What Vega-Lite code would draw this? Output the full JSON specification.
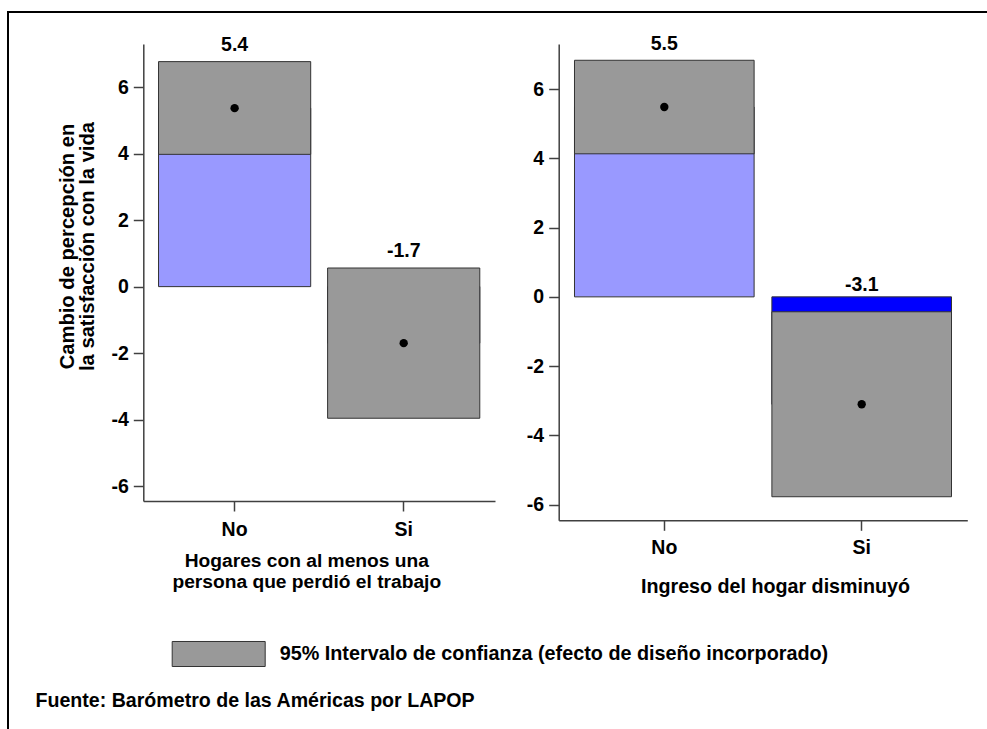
{
  "$schema": "https://vega.github.io/schema/vega-lite/v6.json",
  "autosize": {"type": "none"},
  "padding": {"left": 8, "top": 12, "right": -6, "bottom": -5},
  "width": 985,
  "height": 722,
  "background": "white",
  "config": {
    "view": {"stroke": "black", "strokeWidth": 2},
    "font": "Liberation Sans",
    "locale": {"number": {"decimal": ".", "thousands": ",", "grouping": [3], "currency": ["$", ""], "minus": "-"}},
    "axis": {
      "grid": false,
      "domainColor": "#404040",
      "domainWidth": 1.5,
      "tickColor": "#404040",
      "tickWidth": 1.5,
      "tickSize": 10,
      "labelFont": "Liberation Sans",
      "labelFontSize": 19.5,
      "labelFontWeight": "bold",
      "labelColor": "black",
      "titleFont": "Liberation Sans",
      "titleFontWeight": "bold",
      "titleColor": "black"
    }
  },
  "title": {
    "text": "Fuente: Barómetro de las Américas por LAPOP",
    "anchor": "start",
    "orient": "top",
    "frame": "group",
    "offset": 0,
    "dx": 27.5,
    "dy": 715,
    "baseline": "alphabetic",
    "fontSize": 19.6,
    "font": "Liberation Sans",
    "fontWeight": "bold",
    "color": "black"
  },
  "layer": [
    {
      "data": {"values": [
        {"g": "No", "mean": 5.37, "lo": 3.98, "hi": 6.77},
        {"g": "Si", "mean": -1.7, "lo": -3.96, "hi": 0.56}
      ]},
      "encoding": {
        "x": {
          "field": "g", "type": "nominal",
          "scale": {"type": "band", "range": [135.3, 487], "paddingInner": 0.1, "paddingOuter": 0.09},
          "axis": {
            "orient": "bottom", "offset": -233, "labelAngle": 0, "labelPadding": 9.4,
            "title": ["Hogares con al menos una", "persona que perdió el trabajo"],
            "titleFontSize": 19.2, "titleLineHeight": 21,
            "titleX": 298.3, "titleY": 50.5, "titleAlign": "center", "titleBaseline": "top", "titleAnchor": null
          }
        }
      },
      "layer": [
        {
          "mark": {"type": "bar", "stroke": "#333333", "strokeWidth": 1},
          "encoding": {
            "y": {"field": "mean", "type": "quantitative",
              "scale": {"domain": [-6.45, 7.3], "range": [489, 32], "nice": false, "zero": false},
              "axis": {
                "orient": "left", "offset": -135.3, "values": [-6, -4, -2, 0, 2, 4, 6],
                "labelExpr": "'' + datum.value", "labelPadding": 5, "labelBaseline": "middle",
                "title": ["Cambio de percepción en", "la satisfacción con la vida"],
                "titleFontSize": 20.2, "titleLineHeight": 20, "titleAngle": 270,
                "titleX": -86, "titleY": 234, "titleAlign": "center", "titleBaseline": "top", "titleAnchor": null
              }
            },
            "y2": {"datum": 0},
            "fill": {"condition": {"test": "datum.mean < 0", "value": "#0000ff"}, "value": "#9999ff"}
          }
        },
        {
          "mark": {"type": "bar", "stroke": "#333333", "strokeWidth": 1, "opacity": 1},
          "encoding": {
            "y": {"field": "lo", "type": "quantitative"},
            "y2": {"field": "hi"},
            "fill": {
              "datum": "95% Intervalo de confianza (efecto de diseño incorporado)",
              "type": "nominal",
              "scale": {"range": ["#999999"]},
              "legend": {
                "orient": "none", "legendX": 163.7, "legendY": 595, "title": null, "padding": 0,
                "symbolType": "M-1,-0.269L1,-0.269L1,0.269L-1,0.269Z", "symbolSize": 8649,
                "symbolStrokeColor": "#333333", "symbolStrokeWidth": 1, "symbolOpacity": 1,
                "labelFont": "Liberation Sans", "labelFontSize": 19.8, "labelFontWeight": "bold",
                "labelColor": "black", "labelOffset": 14, "labelLimit": 1000
              }
            }
          }
        },
        {
          "mark": {"type": "point", "filled": true, "color": "black", "size": 70, "opacity": 1},
          "encoding": {"y": {"field": "mean", "type": "quantitative"}}
        },
        {
          "mark": {"type": "text", "fontSize": 19.5, "fontWeight": "bold", "font": "Liberation Sans", "color": "black", "baseline": "alphabetic", "dy": -10.7},
          "encoding": {
            "y": {"field": "hi", "type": "quantitative"},
            "text": {"field": "mean", "type": "quantitative", "format": ".1f"}
          }
        }
      ]
    },
    {
      "data": {"values": [
        {"g": "No", "mean": 5.48, "lo": 4.13, "hi": 6.83},
        {"g": "Si", "mean": -3.1, "lo": -5.77, "hi": -0.43}
      ]},
      "encoding": {
        "x": {
          "field": "g", "type": "nominal",
          "scale": {"type": "band", "range": [550.7, 959.3], "paddingInner": 0.09, "paddingOuter": 0.08},
          "axis": {
            "orient": "bottom", "offset": -213.7, "labelAngle": 0, "labelPadding": 8.5,
            "title": "Ingreso del hogar disminuyó",
            "titleFontSize": 19.7, "titleLineHeight": 19.5,
            "titleX": 767, "titleY": 55.7, "titleAlign": "center", "titleBaseline": "top", "titleAnchor": null
          }
        }
      },
      "layer": [
        {
          "mark": {"type": "bar", "stroke": "#333333", "strokeWidth": 1},
          "encoding": {
            "y": {"field": "mean", "type": "quantitative",
              "scale": {"domain": [-6.45, 7.3], "range": [508.3, 32], "nice": false, "zero": false},
              "axis": {
                "orient": "left", "offset": -550.7, "values": [-6, -4, -2, 0, 2, 4, 6],
                "labelExpr": "'' + datum.value", "labelPadding": 5, "labelBaseline": "middle",
                "title": null
              }
            },
            "y2": {"datum": 0},
            "fill": {"condition": {"test": "datum.mean < 0", "value": "#0000ff"}, "value": "#9999ff"}
          }
        },
        {
          "mark": {"type": "bar", "stroke": "#333333", "strokeWidth": 1, "opacity": 1},
          "encoding": {
            "y": {"field": "lo", "type": "quantitative"},
            "y2": {"field": "hi"},
            "fill": {
              "datum": "95% Intervalo de confianza (efecto de diseño incorporado)",
              "type": "nominal"
            }
          }
        },
        {
          "mark": {"type": "point", "filled": true, "color": "black", "size": 70, "opacity": 1},
          "encoding": {"y": {"field": "mean", "type": "quantitative"}}
        },
        {
          "transform": [{"filter": "datum.hi >= 0"}],
          "mark": {"type": "text", "fontSize": 19.5, "fontWeight": "bold", "font": "Liberation Sans", "color": "black", "baseline": "alphabetic", "dy": -10.7},
          "encoding": {
            "y": {"field": "hi", "type": "quantitative"},
            "text": {"field": "mean", "type": "quantitative", "format": ".1f"}
          }
        },
        {
          "transform": [{"filter": "datum.hi < 0"}],
          "mark": {"type": "text", "fontSize": 19.5, "fontWeight": "bold", "font": "Liberation Sans", "color": "black", "baseline": "alphabetic", "dy": -5.6},
          "encoding": {
            "y": {"datum": 0, "type": "quantitative"},
            "text": {"field": "mean", "type": "quantitative", "format": ".1f"}
          }
        }
      ]
    }
  ],
  "resolve": {"scale": {"x": "independent", "y": "independent"}}
}
